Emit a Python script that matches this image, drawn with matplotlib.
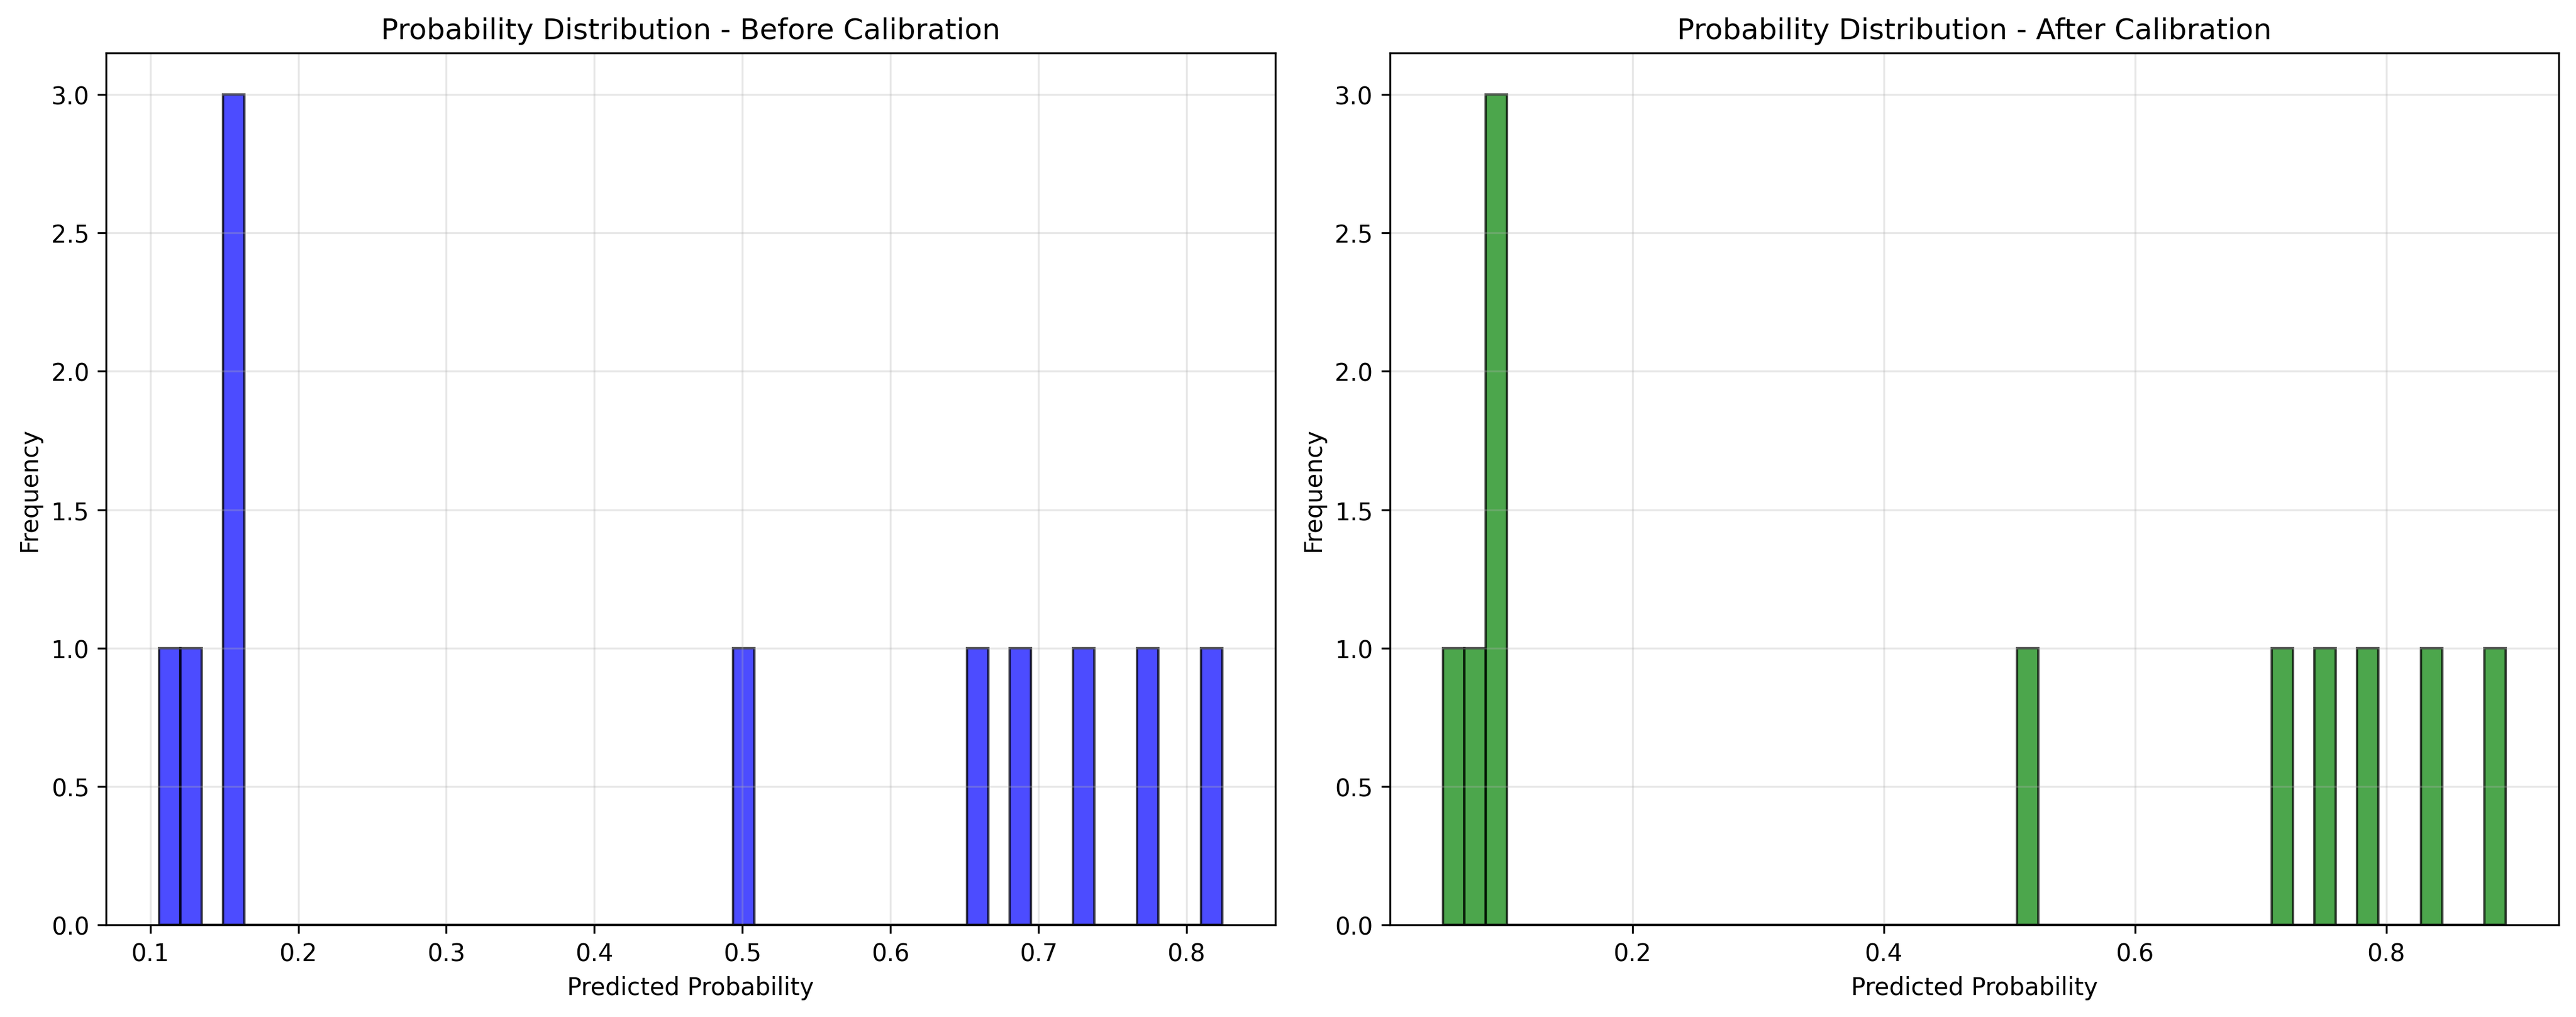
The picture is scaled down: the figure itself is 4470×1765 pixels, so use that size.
import numpy as np
import matplotlib
matplotlib.use("Agg")
import matplotlib.pyplot as plt

# ---- predicted probabilities

probs_before = [0.1061, 0.1250, 0.1550, 0.1580, 0.1600, 0.5010,
                0.6580, 0.6870, 0.7300, 0.7730, 0.8241]
probs_after = [0.0493, 0.0750, 0.0880, 0.0920, 0.0960, 0.5140,
               0.7170, 0.7510, 0.7850, 0.8360, 0.8951]

n_bins = 50

fig, axes = plt.subplots(1, 2, figsize=(15, 6))

axes[0].hist(probs_before, bins=n_bins, color='blue', alpha=0.7, edgecolor='black')
axes[0].set_title('Probability Distribution - Before Calibration')
axes[0].set_xlabel('Predicted Probability')
axes[0].set_ylabel('Frequency')
axes[0].grid(True, alpha=0.3)

axes[1].hist(probs_after, bins=n_bins, color='green', alpha=0.7, edgecolor='black')
axes[1].set_title('Probability Distribution - After Calibration')
axes[1].set_xlabel('Predicted Probability')
axes[1].set_ylabel('Frequency')
axes[1].grid(True, alpha=0.3)

plt.tight_layout()
plt.savefig("out.png", dpi=300, bbox_inches='tight')
